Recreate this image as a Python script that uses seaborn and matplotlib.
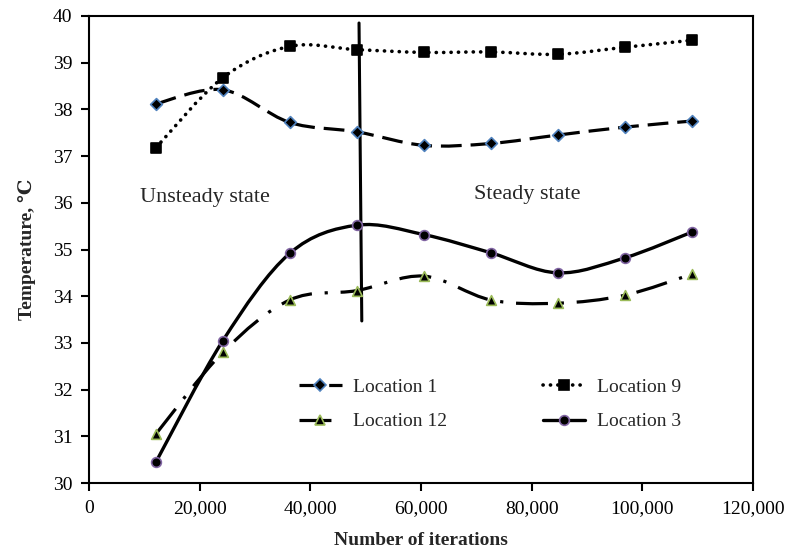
import numpy as np
import pandas as pd
import seaborn as sns
import matplotlib
matplotlib.use("Agg")
import matplotlib.pyplot as plt
from matplotlib.path import Path
from matplotlib.patches import PathPatch
from matplotlib.lines import Line2D

# ---- data ----
iterations = [12100, 24200, 36300, 48400, 60500, 72600, 84700, 96800, 108900]
location_1 = [38.12, 38.42, 37.72, 37.52, 37.23, 37.27, 37.45, 37.62, 37.75]
location_9 = [37.18, 38.68, 39.35, 39.28, 39.22, 39.23, 39.18, 39.33, 39.48]
location_12 = [31.05, 32.80, 33.92, 34.12, 34.43, 33.92, 33.85, 34.02, 34.47]
location_3 = [30.45, 33.05, 34.92, 35.52, 35.32, 34.93, 34.50, 34.82, 35.37]
series_names = ["Location 1", "Location 12", "Location 9", "Location 3"]
divider_x = [48800, 49300]
divider_y = [39.85, 33.47]

sns.set_theme(style="white")
plt.rcParams['font.family'] = ['Liberation Serif', 'DejaVu Serif']
plt.rcParams['mathtext.fontset'] = 'stix'

fig = plt.figure(figsize=(8.02, 5.52), dpi=100)
ax = fig.add_axes([89/802, 1 - 483/552, 664/802, 467/552])

df = pd.DataFrame({
    "x": iterations * 4,
    "y": location_1 + location_12 + location_9 + location_3,
    "series": sum([[n] * len(iterations) for n in series_names], []),
})

styles = {
    "Location 1": dict(vals=location_1, marker="D", ms=6.0, edge="#4F81BD",
                       ls=(0, (6.5, 2.8)), lw=2.3, cap="butt"),
    "Location 12": dict(vals=location_12, marker="^", ms=7.0, edge="#9BBB59",
                        ls=(0, (10, 4, 1.0, 4)), lw=2.3, cap="butt"),
    "Location 9": dict(vals=location_9, marker="s", ms=6.5, edge="black",
                       ls=(0, (0.05, 2.0)), lw=2.6, cap="round"),
    "Location 3": dict(vals=location_3, marker="o", ms=7.0, edge="#8064A2",
                       ls="-", lw=2.4, cap="butt"),
}


def smooth_path(xs, ys):
    # Bezier path through the data points (Excel-like smoothed line)
    p = np.column_stack([xs, ys]).astype(float)
    n = len(p)
    verts = [p[0]]
    codes = [Path.MOVETO]
    for i in range(n - 1):
        p0 = p[i - 1] if i > 0 else p[i]
        p1 = p[i]
        p2 = p[i + 1]
        p3 = p[i + 2] if i + 2 < n else p[i + 1]
        c1 = p1 + (p2 - p0) / 6.0
        c2 = p2 - (p3 - p1) / 6.0
        verts += [c1, c2, p2]
        codes += [Path.CURVE4] * 3
    return Path(verts, codes)


for name in series_names:
    st = styles[name]
    patch = PathPatch(smooth_path(iterations, st["vals"]), fill=False,
                      edgecolor="black", linewidth=st["lw"],
                      linestyle=st["ls"], capstyle=st["cap"], zorder=2)
    ax.add_patch(patch)

for name in series_names:
    st = styles[name]
    sub = df[df["series"] == name]
    sns.scatterplot(data=sub, x="x", y="y", marker=st["marker"],
                    s=st["ms"] ** 2, color="black", edgecolor=st["edge"],
                    linewidth=1.2, ax=ax, zorder=3, legend=False)

ax.plot(divider_x, divider_y, color="black", lw=2.2, zorder=2)

ax.text(9300, 36.12, "Unsteady state", fontsize=16, va="center", ha="left")
ax.text(69600, 36.18, "Steady state", fontsize=16, va="center", ha="left")

ax.set_xlim(0, 120000)
ax.set_ylim(30, 40)
ax.set_xticks(range(0, 120001, 20000))
ax.set_xticklabels([f"{v:,}" for v in range(0, 120001, 20000)])
ax.set_yticks(range(30, 41))
ax.tick_params(axis="both", which="major", direction="out", length=6,
               width=1.5, color="black", labelsize=14, labelcolor="black",
               bottom=True, left=True, pad=6)
for s in ax.spines.values():
    s.set_visible(True)
    s.set_color("black")
    s.set_linewidth(1.5)

ax.set_xlabel("Number of iterations", fontsize=14, fontweight="bold", labelpad=11)
ax.set_ylabel("Temperature, ℃", fontsize=14, fontweight="bold", labelpad=12)

handles = []
for name in series_names:
    st = styles[name]
    handles.append(Line2D([0], [0], color="black", lw=st["lw"], linestyle=st["ls"],
                          dash_capstyle=st["cap"], marker=st["marker"],
                          markersize=st["ms"], markerfacecolor="black",
                          markeredgecolor=st["edge"], markeredgewidth=1.2))
leg = ax.legend(handles, series_names, ncol=2, loc="center",
                bbox_to_anchor=(0.604, 0.168), frameon=False, fontsize=14,
                handlelength=2.2, handletextpad=0.6, columnspacing=4.9,
                labelspacing=0.85)

fig.savefig("out.png", dpi=100, facecolor="white")
